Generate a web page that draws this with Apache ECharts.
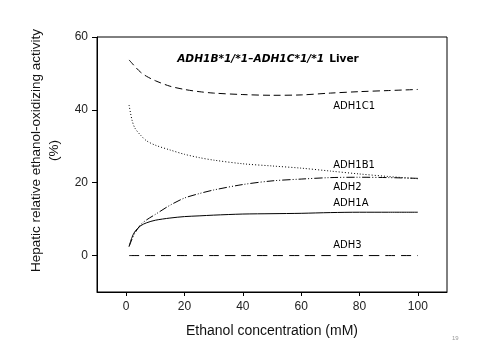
<!DOCTYPE html>
<html>
<head>
<meta charset="utf-8">
<script src="https://cdn.jsdelivr.net/npm/echarts@6/dist/echarts.min.js"></script>
<style>html,body{margin:0;padding:0;background:#fff;}#c{width:482px;height:360px;}</style>
</head>
<body>
<div id="c"></div>
<script>
var ethanol = [1, 2, 3, 5, 7, 10, 15, 20, 25, 30, 40, 50, 60, 70, 80, 90, 100];
var adh1c1 = [53.7, 52.8, 51.9, 50.3, 49.2, 48.0, 46.5, 45.6, 45.0, 44.6, 44.2, 44.0, 44.1, 44.6, 45.0, 45.3, 45.6];
var adh1b1 = [41.3, 37.2, 35.0, 33.0, 31.5, 30.3, 29.0, 27.8, 26.9, 26.2, 25.2, 24.6, 24.0, 23.2, 22.4, 21.7, 21.1];
var adh2 = [2.5, 4.5, 6.2, 8.5, 9.8, 11.3, 13.8, 15.8, 17.0, 18.0, 19.5, 20.5, 21.0, 21.4, 21.5, 21.4, 21.2];
var adh1a = [2.5, 5.0, 6.6, 8.2, 9.0, 9.7, 10.3, 10.7, 10.9, 11.1, 11.4, 11.5, 11.6, 11.8, 11.9, 11.9, 11.9];
var adh3 = [0, 0, 0, 0, 0, 0, 0, 0, 0, 0, 0, 0, 0, 0, 0, 0, 0];
var seriesNames = ['ADH1C1', 'ADH1B1', 'ADH2', 'ADH1A', 'ADH3'];
var xTicks = [0, 20, 40, 60, 80, 100];
var yTicks = [0, 20, 40, 60];

// label anchor positions (data coords)
var labelAt = {
  'ADH1C1': [71, 41.0],
  'ADH1B1': [71, 24.8],
  'ADH2': [71, 18.7],
  'ADH1A': [71, 14.3],
  'ADH3': [71, 2.8]
};
var lineTypes = {
  'ADH1C1': [7, 4],
  'ADH1B1': [1, 2],
  'ADH2': [8, 2, 1, 2, 1, 2],
  'ADH1A': 'solid',
  'ADH3': [10, 6]
};
var values = [adh1c1, adh1b1, adh2, adh1a, adh3];

function pairs(v) { return ethanol.map(function (x, i) { return [x, v[i]]; }); }

var chart = echarts.init(document.getElementById('c'), null, {renderer: 'canvas'});
var axisFont = {fontFamily: 'Liberation Sans', fontSize: 12, color: '#222'};
chart.setOption({
  animation: false,
  backgroundColor: '#fff',
  title: {
    text: '{i|ADH1B*1/*1\u2013ADH1C*1/*1} {b|Liver}',
    left: 263, top: 45, textAlign: 'center',
    textStyle: {
      rich: {
        i: {fontFamily: 'DejaVu Sans', fontSize: 10.6, fontWeight: 'bold', fontStyle: 'italic', color: '#000'},
        b: {fontFamily: 'DejaVu Sans', fontSize: 10.6, fontWeight: 'bold', color: '#000'}
      }
    }
  },
  grid: {left: 97, top: 37, right: 35, bottom: 68, show: true, borderColor: '#000', borderWidth: 1},
  xAxis: {
    type: 'value', min: -10, max: 110,
    name: 'Ethanol concentration (mM)', nameLocation: 'middle', nameGap: 32,
    nameTextStyle: {fontFamily: 'Liberation Sans', fontSize: 14, color: '#111'},
    axisLine: {show: true, onZero: false, lineStyle: {color: '#000', width: 1}},
    axisTick: {show: true, length: 4, customValues: xTicks, lineStyle: {color: '#000'}},
    axisLabel: Object.assign({customValues: xTicks, margin: 9}, axisFont),
    splitLine: {show: false}
  },
  yAxis: {
    type: 'value', min: -10, max: 60,
    name: 'Hepatic relative ethanol-oxidizing activity\n(%)', nameLocation: 'middle', nameGap: 28,
    nameTextStyle: {fontFamily: 'Liberation Sans', fontSize: 13.5, color: '#111', lineHeight: 18,
      padding: [0, 0, 0, 28]},
    axisLine: {show: true, onZero: false, lineStyle: {color: '#000', width: 1}},
    axisTick: {show: true, length: 5, customValues: yTicks, lineStyle: {color: '#000'}},
    axisLabel: Object.assign({customValues: yTicks, margin: 9}, axisFont),
    splitLine: {show: false}
  },
  graphic: [{
    type: 'text', left: 452, top: 335,
    style: {text: '19', fontSize: 6, fill: '#999', fontFamily: 'Liberation Sans'}
  }],
  series: seriesNames.map(function (n, k) {
    return {
      name: n, type: 'line', data: pairs(values[k]), smooth: 0.3,
      showSymbol: false, symbol: 'none',
      lineStyle: {color: '#000', width: 1, type: lineTypes[n]},
      markPoint: {
        symbol: 'circle', symbolSize: 0, silent: true,
        data: [{coord: labelAt[n], name: n}],
        label: {show: true, position: 'inside', align: 'left', verticalAlign: 'middle', formatter: n,
          fontFamily: 'DejaVu Sans', fontSize: 10, color: '#000'}
      }
    };
  })
});
</script>
</body>
</html>
